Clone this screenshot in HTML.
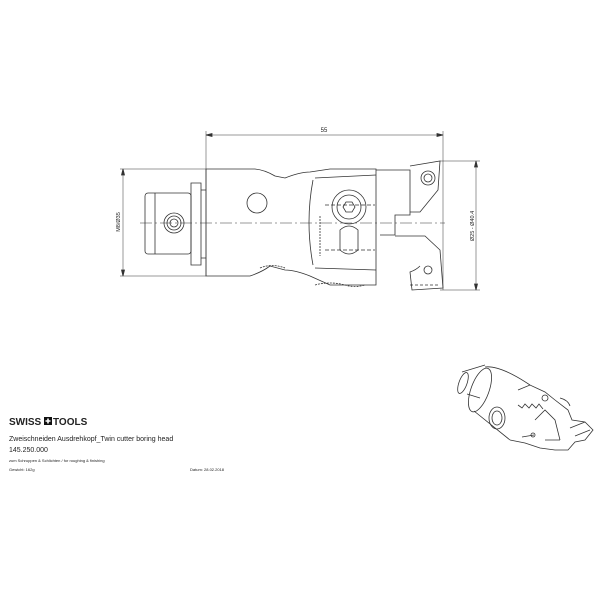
<!DOCTYPE html>
<html><head><meta charset="utf-8"><style>
body{margin:0;background:#fff}
svg{display:block}
text{font-family:"Liberation Sans",sans-serif;fill:#222}
</style></head><body>
<svg width="600" height="600" viewBox="0 0 600 600" xmlns="http://www.w3.org/2000/svg">
<g stroke="#333" fill="none" stroke-width="0.8">
<line x1="206" y1="135" x2="443" y2="135" stroke-width="0.5"/>
<path d="M206 135 l6 -1.5 v3z M443 135 l-6 -1.5 v3z" fill="#333"/>
<line x1="206" y1="131" x2="206" y2="276" stroke-width="0.5"/>
<line x1="443" y1="131" x2="443" y2="290" stroke-width="0.5"/>
<line x1="123" y1="169" x2="123" y2="276" stroke-width="0.5"/>
<path d="M123 169 l-1.5 6 h3z M123 276 l-1.5 -6 h3z" fill="#333"/>
<line x1="120" y1="169" x2="206" y2="169" stroke-width="0.5"/>
<line x1="120" y1="276" x2="206" y2="276" stroke-width="0.5"/>
<line x1="476" y1="161" x2="476" y2="290" stroke-width="0.5"/>
<path d="M476 161 l-1.5 6 h3z M476 290 l-1.5 -6 h3z" fill="#333"/>
<line x1="440" y1="161" x2="480" y2="161" stroke-width="0.5"/>
<line x1="440" y1="290" x2="480" y2="290" stroke-width="0.5"/>
<line x1="140" y1="223" x2="445" y2="223" stroke-width="0.5" stroke-dasharray="12 3 2 3"/>
<rect x="145" y="193" width="46" height="61" rx="3"/>
<line x1="155" y1="193" x2="155" y2="254"/>
<path d="M191 183 h10 v82 h-10z"/>
<path d="M201 190 h5 M201 258 h5"/>
<circle cx="174" cy="223" r="10"/><circle cx="174" cy="223" r="7"/><circle cx="174" cy="223" r="4"/>
<path d="M206 169 H255 Q265 170 275 176 L285 178 Q300 172 310 172 L330 169 H376 V285 H330 L310 276 Q295 270 285 270 L270 266 Q262 272 250 276 H206 Z"/>
<circle cx="257" cy="203" r="10"/>
<path d="M313 180 Q305 222 313 265" />
<path d="M315 178 L376 175 M315 268 L376 270"/>
<circle cx="349" cy="207" r="17"/><circle cx="349" cy="207" r="12"/>
<path d="M343 207 l3 -5 h6 l3 5 l-3 5 h-6z"/>
<path d="M340 230 q9 -8 18 0 v20 q-9 8 -18 0z"/>
<path d="M320 216 v40" stroke-dasharray="2 1"/>
<path d="M325 205 h50 M325 250 h50" stroke-dasharray="4 2"/>
<path d="M376 170 H410 V215 H395 V235 H380"/>
<path d="M410 166 L440 161 L438 190 L420 212 H410"/>
<circle cx="428" cy="178" r="7"/><circle cx="428" cy="178" r="4"/>
<path d="M395 236 H425 L440 250 L443 288 L412 290 L410 272 Q416 270 420 266"/>
<circle cx="428" cy="270" r="4"/>
<path d="M410 285 h30" stroke-dasharray="3 2"/>
<path d="M315 285 q15 -4 30 0 q10 3 20 0" stroke-dasharray="2 1"/>
<path d="M260 268 q12 -5 25 0" stroke-dasharray="2 1"/>
</g>
<text x="324" y="132" font-size="6" text-anchor="middle">55</text>
<text transform="translate(120 222) rotate(-90)" font-size="5.5" text-anchor="middle">M8/Ø35</text>
<text transform="translate(474 226) rotate(-90)" font-size="5.5" text-anchor="middle">Ø25 - Ø40.4</text>
<!-- iso view -->
<g stroke="#333" fill="none" stroke-width="0.8">
<ellipse cx="463" cy="383" rx="4" ry="11" transform="rotate(20 463 383)"/>
<path d="M462 372 L485 365 M467 394 L480 398"/>
<ellipse cx="480" cy="390" rx="9" ry="23" transform="rotate(20 480 390)"/>
<path d="M485 367 Q500 365 530 385 M474 411 L510 440"/>
<ellipse cx="497" cy="418" rx="8" ry="11"/>
<ellipse cx="497" cy="418" rx="5" ry="7"/>
<path d="M518 390 L530 385 L545 392 L555 400 L568 410 L572 420 L585 422 L593 430 L585 440 L575 442 L568 450 L555 450 L540 448 L525 443 L510 440"/>
<path d="M518 405 l4 3 l3 -4 l4 4 l3 -4 l4 4 l3 -4 l4 5"/>
<path d="M535 420 L545 410 L555 420 L560 440 M545 440 L560 440"/>
<path d="M522 437 l12 -2 M560 398 q8 2 10 8"/>
<circle cx="545" cy="398" r="3"/>
<circle cx="533" cy="435" r="2"/>
<path d="M570 428 L585 422 M575 436 L590 430"/>
</g>
<text x="9" y="425" font-size="10" font-weight="bold" fill="#111">SWISS</text>
<rect x="44" y="417" width="8" height="8" fill="#111"/>
<path d="M48 418.5 v5 M45.5 421 h5" stroke="#fff" stroke-width="1.6"/>
<text x="53" y="425" font-size="10" font-weight="bold" fill="#111">TOOLS</text>
<text x="9" y="441" font-size="7">Zweischneiden Ausdrehkopf_Twin cutter boring head</text>
<text x="9" y="452" font-size="7">145.250.000</text>
<text x="9" y="462" font-size="4">zum Schruppen &amp; Schlichten / for roughing &amp; finishing</text>
<text x="9" y="471" font-size="4">Gewicht: 162g</text>
<text x="190" y="471" font-size="4">Datum: 28.02.2018</text>
</svg>
</body></html>
